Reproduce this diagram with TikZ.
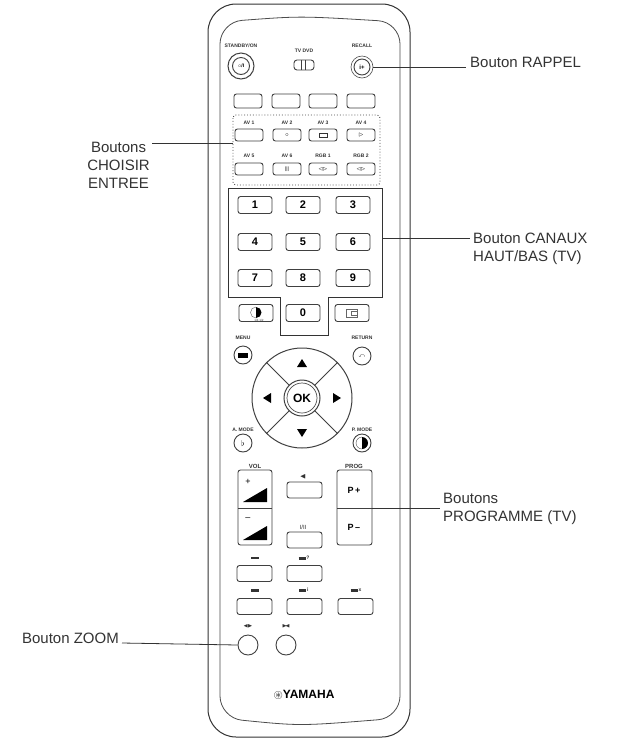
\documentclass[tikz,border=0pt]{standalone}
\usepackage{amssymb}
\usepackage{fontspec}
\setmainfont{Liberation Sans}
\begin{document}
\begin{tikzpicture}[x=1pt,y=-1pt,
  call/.style={font=\fontsize{15}{18}\selectfont, text=black!80, inner sep=0pt},
  cline/.style={black!80, line width=0.8pt},
  btn/.style={draw=black!75, line width=0.9pt, rounded corners=2.5pt, fill=white, inner sep=0pt},
  key/.style={btn, minimum width=34pt, minimum height=17pt, font=\bfseries\fontsize{11}{12}\selectfont},
  sbtn/.style={btn, minimum width=28pt, minimum height=12pt},
  mbtn/.style={btn, minimum width=35pt, minimum height=16pt},
  rbtn/.style={circle, draw=black!75, line width=0.9pt, fill=white, minimum size=18pt, inner sep=0pt},
  lbl/.style={font=\bfseries\fontsize{5}{6}\selectfont, inner sep=0pt, text=black!80},
  glyph/.style={font=\fontsize{6}{7}\selectfont, inner sep=0pt}]
\useasboundingbox (0,0) rectangle (632,740);
\fill[white] (0,0) rectangle (632,740);
% body
\draw[black!80, line width=1pt, rounded corners=28pt] (208,4) -- (410,4) -- (410,737) -- (208,737) -- cycle;
\draw[black!70, line width=0.8pt, rounded corners=22pt] (220,22) .. controls (300,16) .. (400,22) -- (400,718) .. controls (300,726) .. (220,718) -- cycle;
% top
\node[lbl] (lsb) at (241,46) {STANDBY/ON};
\node[circle, draw=black!75, line width=1pt, minimum size=26pt, inner sep=0pt] (sb) at (241,66) {};
\node[rbtn, minimum size=17pt, font=\bfseries\fontsize{5}{6}\selectfont] (sbi) at (241,66) {$\circ$/I};
\node[lbl] (ltv) at (304,51) {TV\;DVD};
\node[btn, minimum width=20pt, minimum height=10pt, rounded corners=3pt] (tv) at (304,65) {};
\draw[black!75, line width=0.8pt] (301,60) -- (301,70) (305,60) -- (305,70);
\node[lbl] (lrc) at (362,46) {RECALL};
\node[circle, draw=black!70, line width=0.6pt, minimum size=22pt, inner sep=0pt] (rc0) at (362,67) {};
\node[rbtn, minimum size=16pt, font=\bfseries\fontsize{6}{7}\selectfont] (rc) at (362,67) {i+};
% colour row
\foreach \x [count=\i] in {248,286,323,361} \node[sbtn, minimum height=14pt] (c\i) at (\x,101) {};
% AV box
\draw[black!70, line width=0.9pt, dotted, rounded corners=3pt] (233,115) rectangle (380,185);
\foreach \x/\t [count=\i] in {249/AV 1,287/AV 2,323/AV 3,361/AV 4} {
  \node[lbl] (la\i) at (\x,123) {\t};
  \node[sbtn] (a\i) at (\x,135) {};}
\foreach \x/\t [count=\i] in {249/AV 5,287/AV 6,323/RGB 1,361/RGB 2} {
  \node[lbl] (lb\i) at (\x,156) {\t};
  \node[sbtn] (b\i) at (\x,169) {};}
\node[glyph] (g2) at (287,135) {$\circ$};
\draw[black!80, line width=0.8pt] (319,133) rectangle (327,137.5);
\node[glyph] (g4) at (361,135) {$\rhd$};
\node[glyph] (g6) at (287,169) {\tiny|||};
\node[glyph] (g7) at (323,169) {\tiny$\lhd\!\rhd$};
\node[glyph] (g8) at (361,169) {\tiny$\lhd\!\rhd$};
% numeric box
\draw[black!80, line width=0.9pt] (228,188) -- (382,188) -- (382,297) -- (328,297) -- (328,335) -- (280,335) -- (280,297) -- (228,297) -- cycle;
\foreach \t/\x/\y in {1/255/205,2/303/205,3/353/205,4/255/242,5/303/242,6/353/242,7/255/278,8/303/278,9/353/278,0/303/313}
  \node[key] (k\t) at (\x,\y) {\t};
\node[key] (kl) at (256,313) {};
\fill[black] (256,307) arc (-90:90:5.5) -- cycle;
\draw[black!60] (256,307) arc (-90:-270:5.5);
\node[lbl, font=\fontsize{3}{3}\selectfont] (klt) at (259,320) {1/4 1/2};
\node[key] (kr) at (352,313) {};
\draw[black!60, line width=0.6pt] (346,309) rectangle (357,317) (351,311) rectangle (357,315);
% menu/return
\node[lbl] (lmn) at (243,338) {MENU};
\node[rbtn] (mn) at (243,355) {};
\fill[black] (238,352.5) rectangle (248,357.5);
\node[lbl] (lrt) at (362,338) {RETURN};
\node[rbtn, font=\bfseries\fontsize{6}{7}\selectfont] (rt) at (362,356) {$\curvearrowleft$};
% dpad
\node[circle, draw=black!75, line width=1pt, minimum size=100pt, inner sep=0pt] (dp) at (302,398) {};
\node[circle, draw=black!75, line width=1pt, minimum size=36pt, inner sep=0pt] (okr) at (302,398) {};
\node[circle, draw=black!70, line width=0.7pt, minimum size=30pt, inner sep=0pt, font=\bfseries\fontsize{12}{12}\selectfont] (ok) at (302,398) {OK};
\foreach \a in {45,135,225,315} \draw[black!75, line width=0.9pt] (okr.\a) -- (dp.\a);
\fill[black] (302,359) -- (297,367) -- (307,367) -- cycle;
\fill[black] (302,437) -- (297,429) -- (307,429) -- cycle;
\fill[black] (263,398) -- (271,393) -- (271,403) -- cycle;
\fill[black] (341,398) -- (333,393) -- (333,403) -- cycle;
% mode
\node[lbl] (lam) at (243,430) {A. MODE};
\node[rbtn, font=\fontsize{8}{8}\selectfont] (am) at (243,443) {$\flat$};
\node[lbl] (lpm) at (362,430) {P. MODE};
\node[rbtn] (pm) at (362,443) {};
\fill[black] (362,437) arc (-90:90:6) -- cycle;
\draw[black!70] (362,437) arc (-90:-270:6);
% vol/prog
\node[lbl, font=\bfseries\fontsize{6}{7}\selectfont] (lvol) at (255,466) {VOL};
\node[btn, minimum width=34pt, minimum height=75pt] (vol) at (255,507.5) {};
\draw[black!75, line width=0.9pt] (238,508) -- (272,508);
\fill[black] (243,502) -- (267,502) -- (267,488) -- cycle;
\fill[black] (243,540) -- (267,540) -- (267,526) -- cycle;
\node[font=\fontsize{9}{9}\selectfont] (vp) at (248,482) {+};
\node[font=\fontsize{9}{9}\selectfont] (vm) at (248,519) {--};
\node[lbl, font=\bfseries\fontsize{6}{7}\selectfont] (lpg) at (354,466) {PROG};
\node[btn, minimum width=35pt, minimum height=75pt] (pg) at (354.5,507.5) {};
\draw[black!75, line width=0.9pt] (337,508) -- (372,508);
\node[font=\bfseries\fontsize{9}{10}\selectfont] (pp) at (354,490) {P\,+};
\node[font=\bfseries\fontsize{9}{10}\selectfont] (pmn) at (354,527) {P\,--};
\node[lbl, font=\fontsize{7}{7}\selectfont] (lmu) at (303,477) {\ensuremath{\blacktriangleleft}};
\node[mbtn] (mu) at (304.5,490) {};
\node[lbl, font=\fontsize{6}{7}\selectfont] (lio) at (303,527) {I/II};
\node[mbtn] (io) at (304.5,540) {};
% teletext rows
\node[lbl] (lt1) at (255,558) {\rule{8pt}{2pt}};
\node[mbtn] (t1) at (254.5,573.5) {};
\node[lbl] (lt2) at (304,558) {\rule{7pt}{3pt}\,\tiny?};
\node[mbtn] (t2) at (304.5,573.5) {};
\node[lbl] (lt3) at (255,590) {\rule{8pt}{3pt}};
\node[mbtn] (t3) at (254.5,606.5) {};
\node[lbl] (lt4) at (304,590) {\rule{7pt}{3pt}\,\tiny i};
\node[mbtn] (t4) at (304.5,606.5) {};
\node[lbl] (lt5) at (356,590) {\rule{7pt}{3pt}\,\tiny x};
\node[mbtn] (t5) at (355.5,606.5) {};
% small circles
\node[lbl] (lz) at (248,626) {\ensuremath{\blacktriangleleft\!\blacktriangleright}};
\node[circle, draw=black!75, line width=0.9pt, minimum size=20pt, inner sep=0pt] (zm) at (248,645) {};
\node[lbl] (ls) at (286,626) {\ensuremath{\blacktriangleright\!\!\blacktriangleleft}};
\node[circle, draw=black!75, line width=0.9pt, minimum size=20pt, inner sep=0pt] (sz) at (286,645) {};
\node[font=\bfseries\fontsize{12}{12}\selectfont] (ym) at (304,695) {\ensuremath{\circledast}YAMAHA};
% callouts
\node[call, anchor=west] (crp) at (470,62) {Bouton RAPPEL};
\draw[cline] (rc0.east) -- (466,67);
\node[call, align=center, anchor=east] (cce) at (150,165) {Boutons\\CHOISIR\\ENTREE};
\draw[cline] (152,143) -- (233,143);
\node[call, align=left, anchor=west] (cca) at (473,249) {Bouton CANAUX\\HAUT/BAS (TV)};
\draw[cline] (382,238) -- (470,238);
\node[call, align=left, anchor=west] (cpg) at (443,509) {Boutons\\PROGRAMME (TV)};
\draw[cline] (372,508) -- (440,508);
\node[call, anchor=east] (czm) at (119,638) {Bouton ZOOM};
\draw[cline] (122,643) -- (zm.west);
\end{tikzpicture}
\end{document}
